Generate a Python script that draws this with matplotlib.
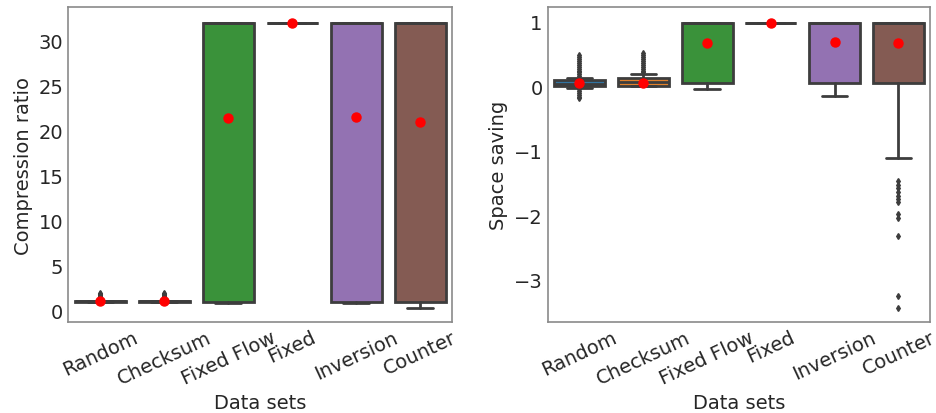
import matplotlib
matplotlib.use("Agg")
import matplotlib.pyplot as plt
import seaborn as sns

sns.set_style("white")
plt.rcParams['font.family'] = ['DejaVu Sans']

categories = ["Random", "Checksum", "Fixed Flow", "Fixed", "Inversion", "Counter"]
box_colors = ["#3274a1", "#e1812c", "#3a923a", "#c03d3e", "#9372b2", "#845b53"]

# Compression ratio summary statistics
cr_q1 = [0.98, 0.98, 1.0, 32.0, 1.0, 1.0]
cr_med = [1.02, 1.02, 32.0, 32.0, 32.0, 32.0]
cr_q3 = [1.05, 1.07, 32.0, 32.0, 32.0, 32.0]
cr_wlo = [0.95, 0.95, 0.85, 32.0, 0.85, 0.3]
cr_whi = [1.1, 1.12, 32.0, 32.0, 32.0, 32.0]
cr_mean = [1.05, 1.05, 21.4, 32.0, 21.5, 21.0]
cr_fliers = [
    [1.2, 1.3, 1.4, 1.5, 1.6, 1.7, 1.8, 1.9, 2.0],
    [1.2, 1.3, 1.4, 1.5, 1.6, 1.7, 1.8, 1.9, 2.0],
    [], [], [], [],
]

# Space saving summary statistics
ss_q1 = [0.0, 0.005, 0.05, 0.97, 0.05, 0.05]
ss_med = [0.03, 0.06, 0.97, 0.97, 0.97, 0.97]
ss_q3 = [0.1, 0.13, 0.97, 0.97, 0.97, 0.97]
ss_wlo = [-0.03, 0.0, -0.04, 0.97, -0.16, -1.12]
ss_whi = [0.13, 0.19, 0.97, 0.97, 0.97, 0.97]
ss_mean = [0.04, 0.05, 0.67, 0.97, 0.68, 0.67]
ss_fliers = [
    [0.15, 0.18, 0.21, 0.24, 0.27, 0.30, 0.33, 0.36, 0.39, 0.42, 0.45, 0.48,
     -0.05, -0.08, -0.11, -0.14, -0.17, -0.19],
    [0.21, 0.24, 0.27, 0.30, 0.33, 0.36, 0.39, 0.42, 0.45, 0.48, 0.51],
    [], [], [],
    [-1.47, -1.53, -1.58, -1.64, -1.70, -1.75, -1.79, -1.98, -2.04, -2.32, -3.25, -3.44],
]

LINE = "#3d3d3d"
FS = 14


def draw(ax, q1, med, q3, wlo, whi, mean, fliers, ylabel, ylim):
    stats = []
    for i, name in enumerate(categories):
        stats.append(dict(label=name, q1=q1[i], med=med[i], q3=q3[i],
                          whislo=wlo[i], whishi=whi[i], mean=mean[i],
                          fliers=fliers[i]))
    pos = list(range(len(categories)))
    bp = ax.bxp(stats, positions=pos, widths=0.8, patch_artist=True,
                showmeans=True, capwidths=0.4,
                boxprops=dict(edgecolor=LINE, linewidth=2),
                whiskerprops=dict(color=LINE, linewidth=2),
                capprops=dict(color=LINE, linewidth=2),
                medianprops=dict(color=LINE, linewidth=2),
                flierprops=dict(marker="d", markersize=3, markerfacecolor=LINE,
                                markeredgecolor=LINE, linestyle="none"),
                meanprops=dict(marker="o", markerfacecolor="red",
                               markeredgecolor="red", markersize=6.5))
    for patch, c in zip(bp["boxes"], box_colors):
        patch.set_facecolor(c)
    for m in bp["means"]:
        m.set_zorder(5)
    ax.set_xlim(-0.5, len(categories) - 0.5)
    ax.set_ylim(*ylim)
    ax.set_xticks(pos)
    ax.set_xticklabels(categories, rotation=25, ha="center")
    ax.set_xlabel("Data sets", fontsize=FS, color=".15")
    ax.set_ylabel(ylabel, fontsize=FS, color=".15")
    ax.tick_params(axis="both", labelsize=FS, colors=".15", length=0)
    for s in ax.spines.values():
        s.set_color("#8a8a8a")
        s.set_linewidth(1.2)


fig = plt.figure(figsize=(9.36, 4.14), dpi=100)
ax1 = fig.add_axes([0.073, 0.219, 0.410, 0.761])
ax2 = fig.add_axes([0.585, 0.219, 0.409, 0.761])

draw(ax1, cr_q1, cr_med, cr_q3, cr_wlo, cr_whi, cr_mean, cr_fliers,
     "Compression ratio", (-1.3, 33.7))
draw(ax2, ss_q1, ss_med, ss_q3, ss_wlo, ss_whi, ss_mean, ss_fliers,
     "Space saving", (-3.66, 1.22))
ax1.set_yticks([0, 5, 10, 15, 20, 25, 30])
ax2.set_yticks([-3, -2, -1, 0, 1])

fig.savefig("out.png", dpi=100)
